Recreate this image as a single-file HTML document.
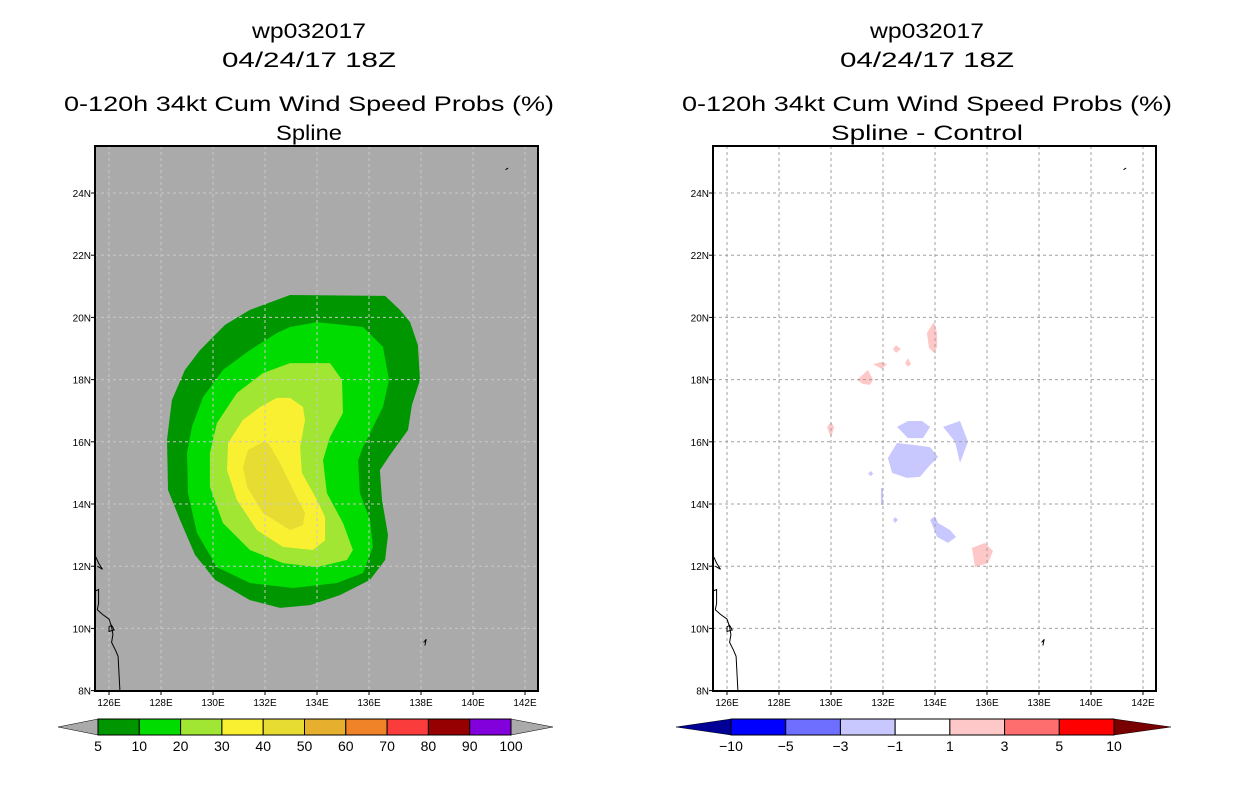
<!DOCTYPE html>
<html><head><meta charset="utf-8">
<style>
html,body{margin:0;padding:0;background:#fff;}
svg{display:block;font-family:"Liberation Sans",sans-serif;}
</style></head>
<body>
<svg id="fig" width="1236" height="800" viewBox="0 0 1236 800" xmlns="http://www.w3.org/2000/svg">
<g font-size="21" text-anchor="middle" fill="#000">
<text x="309" y="38" textLength="114" lengthAdjust="spacingAndGlyphs">wp032017</text>
<text x="309" y="67" textLength="174" lengthAdjust="spacingAndGlyphs">04/24/17 18Z</text>
<text x="309" y="111" textLength="490" lengthAdjust="spacingAndGlyphs">0-120h 34kt Cum Wind Speed Probs (%)</text>
<text x="309" y="140" textLength="66" lengthAdjust="spacingAndGlyphs">Spline</text>
</g>
<g font-size="21" text-anchor="middle" fill="#000">
<text x="927" y="38" textLength="114" lengthAdjust="spacingAndGlyphs">wp032017</text>
<text x="927" y="67" textLength="174" lengthAdjust="spacingAndGlyphs">04/24/17 18Z</text>
<text x="927" y="111" textLength="490" lengthAdjust="spacingAndGlyphs">0-120h 34kt Cum Wind Speed Probs (%)</text>
<text x="927" y="140" textLength="192" lengthAdjust="spacingAndGlyphs">Spline - Control</text>
</g>
<g id="left"></g>
<g id="right"></g>
<g id="cbars"></g>
</svg>
<script>
// ---- data ----
const lonTicks = [126,128,130,132,134,136,138,140,142];
const latTicks = [8,10,12,14,16,18,20,22,24];
const probLevels = [5,10,20,30,40,50,60,70,80,90,100];
const probColors = ['#009600','#00dc00','#a0e632','#faf032','#e6dc32','#e6af2d','#f08228','#fa3c3c','#960000','#8200dc'];
const diffLevels = [-10,-5,-3,-1,1,3,5,10];
const diffColors = ['#0000ff','#6e6eff','#c8c8ff','#ffffff','#ffc8c8','#ff6e6e','#ff0000'];
const prob5 = [[132.96,20.72],[136.62,20.69],[137.19,20.24],[137.58,19.85],[137.88,19.11],[137.96,17.99],[137.65,17.18],[137.5,16.38],[136.81,15.58],[136.42,15.09],[136.5,14.13],[136.73,13.0],[136.62,12.2],[136.04,11.56],[134.88,11.07],[133.73,10.75],[132.58,10.66],[131.42,10.91],[130.08,11.56],[129.31,12.36],[128.73,13.49],[128.27,14.45],[128.23,16.06],[128.42,17.34],[128.92,18.31],[129.5,18.95],[130.46,19.76],[131.42,20.24]];
const prob10 = [[132.96,19.69],[134.0,19.85],[135.77,19.69],[136.54,19.05],[136.77,17.99],[136.54,17.12],[135.77,15.83],[135.58,15.41],[135.65,14.35],[136.04,13.49],[136.15,12.62],[135.77,11.78],[134.77,11.46],[133.08,11.3],[131.42,11.46],[130.15,11.97],[129.38,13.07],[129.04,14.35],[129.0,15.64],[129.19,16.48],[129.62,17.44],[130.38,18.31],[131.42,18.95],[132.46,19.5]];
const prob20 = [[132.96,18.53],[134.5,18.53],[134.96,17.99],[135.0,16.93],[134.5,16.15],[134.23,15.41],[134.38,14.35],[135.0,13.39],[135.38,12.52],[135.15,12.2],[134.0,11.97],[132.69,12.1],[131.42,12.52],[130.38,13.39],[129.88,14.55],[129.88,15.64],[130.15,16.6],[130.92,17.57],[131.92,18.21]];
const prob30 = [[132.46,17.41],[132.96,17.41],[133.46,17.12],[133.54,16.7],[133.35,15.83],[133.42,15.0],[134.0,14.13],[134.31,13.58],[134.31,12.84],[133.85,12.52],[132.69,12.62],[131.69,13.16],[130.92,14.13],[130.54,15.09],[130.58,15.96],[131.15,16.7],[131.81,17.12]];
const prob40 = [[131.92,15.99],[132.12,15.96],[132.58,15.32],[133.08,14.45],[133.54,13.71],[133.46,13.32],[132.96,13.16],[131.92,13.71],[131.31,14.55],[131.15,15.19],[131.35,15.74]];
const diffPos = [
 [[133.96,19.85],[134.08,19.5],[134.08,19.05],[133.96,18.86],[133.77,19.02],[133.69,19.5],[133.88,19.76]],
 [[132.38,18.98],[132.5,19.11],[132.69,18.98],[132.5,18.86]],
 [[132.85,18.53],[132.96,18.69],[133.08,18.5],[132.96,18.41]],
 [[131.62,18.5],[131.96,18.57],[132.15,18.5],[131.96,18.34]],
 [[131.0,17.99],[131.42,18.31],[131.62,17.99],[131.5,17.83],[131.23,17.86]],
 [[129.85,16.48],[130,16.64],[130.12,16.48],[130,16.12]],
 [[135.42,12.59],[135.92,12.75],[136.23,12.49],[136.04,12.1],[135.54,11.97]]
];
const diffNeg = [
 [[132.54,16.48],[132.96,16.67],[133.5,16.67],[133.81,16.48],[133.54,16.12],[132.96,16.12]],
 [[134.31,16.48],[134.96,16.67],[135.27,16.0],[134.96,15.32],[134.77,16.0]],
 [[132.54,15.96],[133.15,15.9],[133.81,15.83],[134.12,15.51],[133.81,15.25],[133.42,14.87],[132.92,14.84],[132.35,15.0],[132.19,15.48]],
 [[131.42,14.97],[131.54,15.06],[131.62,14.97],[131.54,14.9]],
 [[131.92,14.51],[132.0,14.51],[132.0,13.97],[131.92,13.97]],
 [[132.38,13.49],[132.46,13.58],[132.58,13.49],[132.46,13.39]],
 [[133.81,13.49],[134.0,13.61],[134.12,13.39],[134.58,13.16],[134.81,12.94],[134.5,12.75],[134.08,12.94]]
];
const coast1 = [[125.46,12.35],[125.6,12.1],[125.75,11.9],[125.55,12.0]];
const coast2 = [[125.46,11.2],[125.6,11.25],[125.6,10.8],[125.55,10.6],[125.75,10.45],[126.0,10.3],[126.1,10.05],[126.15,9.8],[126.1,9.55],[126.25,9.3],[126.35,9.1],[126.42,8.0]];
const island1 = [[126.0,10.05],[126.1,10.1],[126.2,9.95],[126.0,9.9]];
const island2 = [[138.1,9.55],[138.2,9.65],[138.15,9.45]];
const island3 = [[141.25,24.75],[141.35,24.8]];

// ---- axes ----
const LON0=130, LAT0=24, PXDEG=26, PYDEG=31.1;
function xs(lon,off){return 213+off+(lon-LON0)*PXDEG;}
function ys(lat){return 193+(LAT0-lat)*PYDEG;}
const NS='http://www.w3.org/2000/svg';
function mk(tag,attrs,parent){const e=document.createElementNS(NS,tag);for(const k in attrs)e.setAttribute(k,attrs[k]);parent.appendChild(e);return e;}
function pts(poly,off){return poly.map(p=>xs(p[0],off).toFixed(1)+','+ys(p[1]).toFixed(1)).join(' ');}

function panel(g,off,bg,gridCol){
  const L=95+off,T=146,W=443,H=545;
  const clip=mk('clipPath',{id:'clip'+off},g);
  mk('rect',{x:L,y:T,width:W,height:H},clip);
  const bgR=mk('rect',{x:L,y:T,width:W,height:H,fill:bg},g);
  
  
  const body=mk('g',{'clip-path':'url(#clip'+off+')'},g);
  return {body,L,T,W,H,gridCol};
}
function finish(p,g,off){
  const grid=mk('g',{stroke:p.gridCol,'stroke-width':1,'stroke-dasharray':'3,3'},p.body);
  
  
  lonTicks.forEach(l=>{const x=xs(l,off);mk('line',{x1:x,y1:p.T,x2:x,y2:p.T+p.H},grid);});
  latTicks.forEach(l=>{const y=ys(l);mk('line',{x1:p.L,y1:y,x2:p.L+p.W,y2:y},grid);});
  const land=mk('g',{fill:'none',stroke:'#000','stroke-width':1},p.body);
  
  
  [coast1,coast2,island1,island2,island3].forEach((c,i)=>{
    mk(i>=2&&i<3?'polygon':'polyline',{points:pts(c,off)},land);
  });
  const fr=mk('rect',{x:p.L,y:p.T,width:p.W,height:p.H,fill:'none',stroke:'#000','stroke-width':2},g);
  
  
  const ax=mk('g',{'font-size':10,fill:'#000'},g);
  
  
  lonTicks.forEach(l=>{const x=xs(l,off);
    mk('line',{x1:x,y1:p.T+p.H,x2:x,y2:p.T+p.H+4,stroke:'#000'},ax);
    const t=mk('text',{x:x,y:p.T+p.H+15,'text-anchor':'middle'},ax);t.textContent=l+'E';
    
    });
  latTicks.forEach(l=>{const y=ys(l);
    mk('line',{x1:p.L-4,y1:y,x2:p.L,y2:y,stroke:'#000'},ax);
    const t=mk('text',{x:p.L-4,y:y+4,'text-anchor':'end'},ax);t.textContent=l+'N';
    
    });
}
// left
const lg=document.getElementById('left');
const lp=panel(lg,0,'#aaaaaa','#c8c8c8');
[prob5,prob10,prob20,prob30,prob40].forEach((poly,i)=>{
  const e=mk('polygon',{points:pts(poly,0),fill:probColors[i]},lp.body);
  
  
});
finish(lp,lg,0);
// right
const rg=document.getElementById('right');
const rp=panel(rg,618,'#ffffff','#a0a0a0');
diffPos.forEach(poly=>{
  const e=mk('polygon',{points:pts(poly,618),fill:diffColors[4]},rp.body);
  
  
});
diffNeg.forEach(poly=>{
  const e=mk('polygon',{points:pts(poly,618),fill:diffColors[2]},rp.body);
  
  
});
finish(rp,rg,618);

// colorbars
const cb=document.getElementById('cbars');
function colorbar(x0,x1,tl,tr,levels,colors,leftTri,rightTri,name){
  const g=mk('g',{},cb);
  
  
  const y0=719,y1=735,ym=727,n=colors.length,w=(x1-x0)/n;
  mk('polygon',{points:`${tl},${ym} ${x0},${y0} ${x0},${y1}`,fill:leftTri,stroke:'#000','stroke-width':0.5},g);
  mk('polygon',{points:`${tr},${ym} ${x1},${y0} ${x1},${y1}`,fill:rightTri,stroke:'#000','stroke-width':0.5},g);
  colors.forEach((c,i)=>{mk('rect',{x:x0+i*w,y:y0,width:w,height:y1-y0,fill:c,stroke:'#000','stroke-width':1},g);});
  levels.forEach((l,i)=>{const t=mk('text',{x:x0+i*w,y:751,'text-anchor':'middle','font-size':14},g);
    t.textContent=String(l).replace('-','\u2212');
    
    });
}
colorbar(98,511,58,553,probLevels,probColors,'#aaaaaa','#aaaaaa','prob-colorbar');
colorbar(731,1114,676,1171,diffLevels,diffColors,'#000096','#780000','diff-colorbar');
</script>
</body></html>
